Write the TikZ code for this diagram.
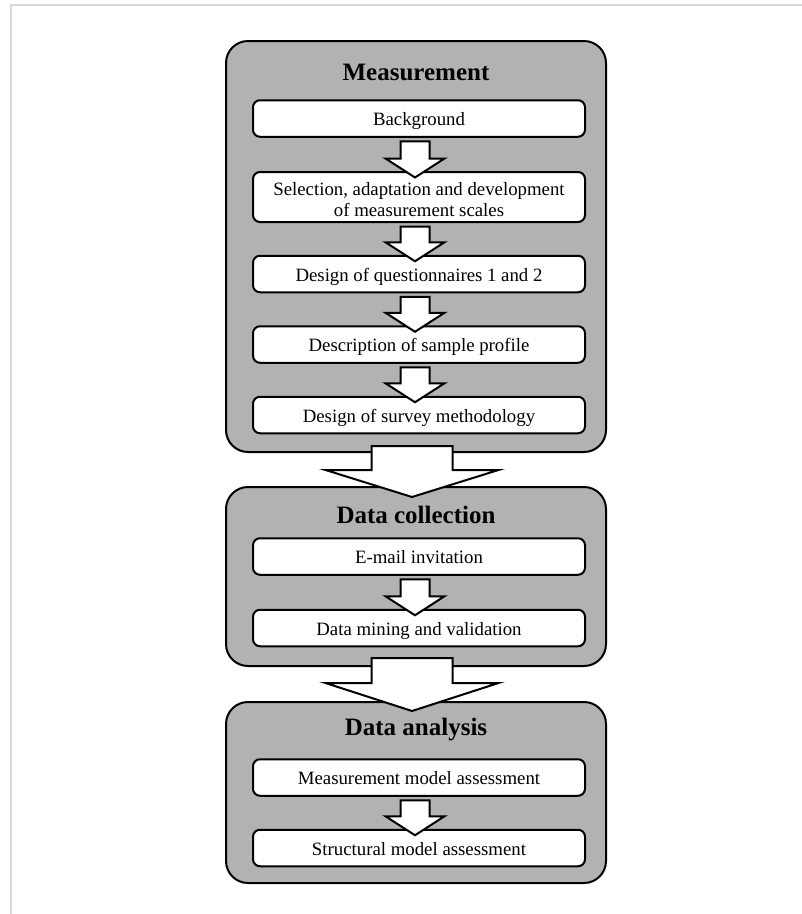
\documentclass[tikz,border=0pt]{standalone}
\usepackage{fontspec}
\setmainfont{Liberation Serif}
\usetikzlibrary{calc}

\tikzset{
  stage/.style={draw=black, fill=black!30, line width=2pt, rounded corners=22pt,
    minimum width=380pt, inner sep=0pt, outer sep=0pt},
  stagetitle/.style={font=\fontsize{25}{28}\selectfont\bfseries, anchor=base,
    inner sep=0pt, outer sep=0pt},
  stepbox/.style={draw=black, fill=white, line width=2pt, rounded corners=7pt,
    minimum width=332pt, minimum height=36.5pt, inner sep=0pt, outer sep=0pt,
    font=\fontsize{18.8}{20.5}\selectfont, text height=15pt, text depth=1pt},
  blockarrow/.style={draw=black, fill=white, line width=2pt, line join=miter},
  pageframe/.style={draw=black!15, line width=1.8pt},
}

% Hollow block arrow from the bottom of node #1 to the top of node #2.
% #3 shaft half width, #4 head half width, #5 start above #1.south,
% #6 tip below #2.north, #7 head length.
\newcommand\flowarrow[7]{%
  \draw[blockarrow] let \p1=(#1.south), \p2=(#2.north) in
    ({\x1-4pt-#3},{\y1+#5}) -- ({\x1-4pt+#3},{\y1+#5})
    -- ({\x1-4pt+#3},{\y2-#6+#7}) -- ({\x1-4pt+#4},{\y2-#6+#7})
    -- ({\x1-4pt},{\y2-#6}) -- ({\x1-4pt-#4},{\y2-#6+#7})
    -- ({\x1-4pt-#3},{\y2-#6+#7}) -- cycle;}

\begin{document}
\begin{tikzpicture}[x=1pt, y=1pt]
  \useasboundingbox (0,0) rectangle (802,-914);

  % page frame (top and left edges)
  \draw[pageframe] (11,-914) -- (11,-5) -- (802,-5);

  % stage panels
  \node[stage, minimum height=411pt] (meas) at (416,-246.5) {};
  \node[stage, minimum height=179pt] (coll) at (416,-576.5) {};
  \node[stage, minimum height=181pt] (anal) at (416,-792.5) {};

  % stage titles
  \node[stagetitle] (measT) at (416,-80) {Measurement};
  \node[stagetitle] (collT) at (416,-523) {Data collection};
  \node[stagetitle] (analT) at (416,-735) {Data analysis};

  % steps of the measurement stage
  \node[stepbox] (bg)   at (419,-118.5) {Background};
  \node[stepbox, minimum height=50pt, align=center, text height=39pt, text depth=1pt]
        (sel)  at (419,-197) {Selection, adaptation and development\\of measurement scales};
  \node[stepbox] (quest) at (419,-274) {Design of questionnaires 1 and 2};
  \node[stepbox] (prof)  at (419,-344.5) {Description of sample profile};
  \node[stepbox] (surv)  at (419,-415) {Design of survey methodology};

  % steps of the data collection stage
  \node[stepbox] (mail)  at (419,-556.5) {E-mail invitation};
  \node[stepbox] (mine)  at (419,-628) {Data mining and validation};

  % steps of the data analysis stage
  \node[stepbox] (mmod)  at (419,-777.5) {Measurement model assessment};
  \node[stepbox] (smod)  at (419,-848) {Structural model assessment};

  % arrows between steps
  \flowarrow{bg}{sel}{14.5pt}{29.5pt}{-4.5pt}{5.5pt}{19pt}
  \flowarrow{sel}{quest}{14.5pt}{29.5pt}{-4.5pt}{5.5pt}{19pt}
  \flowarrow{quest}{prof}{14.5pt}{29.5pt}{-4.5pt}{5.5pt}{19pt}
  \flowarrow{prof}{surv}{14.5pt}{29.5pt}{-4.5pt}{5.5pt}{19pt}
  \flowarrow{mail}{mine}{14.5pt}{29.5pt}{-4.5pt}{5.5pt}{19pt}
  \flowarrow{mmod}{smod}{14.5pt}{29.5pt}{-4.5pt}{5.5pt}{19pt}

  % arrows between stages
  \flowarrow{meas}{coll}{40.5pt}{86.5pt}{6pt}{10pt}{27pt}
  \flowarrow{coll}{anal}{40.5pt}{86.5pt}{8pt}{9pt}{28pt}
\end{tikzpicture}
\end{document}
